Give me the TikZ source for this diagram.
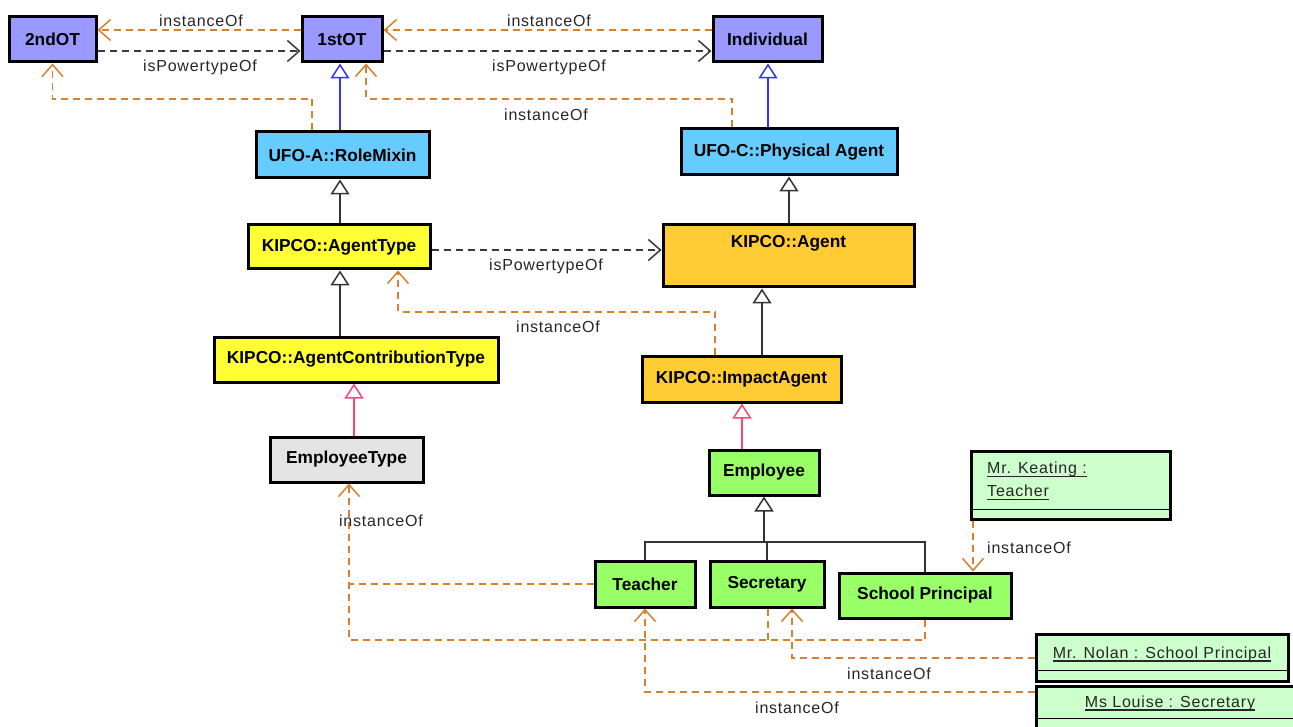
\documentclass[tikz,border=0pt]{standalone}
\usepackage{fontspec}
\setmainfont{Liberation Sans}
\newfontfamily\lblfont[LetterSpace=5]{Liberation Sans}
\usetikzlibrary{arrows.meta}

% underlined text with a rule of chosen thickness
\newcommand{\objname}[1]{\setbox0=\hbox{#1}\rlap{\raisebox{-3.5pt}{\rule{\wd0}{1.2pt}}}\box0}

\definecolor{otfill}{HTML}{9999FF}
\definecolor{ufofill}{HTML}{66CCFF}
\definecolor{typefill}{HTML}{FFFF33}
\definecolor{agentfill}{HTML}{FFCC33}
\definecolor{grayfill}{HTML}{E4E4E4}
\definecolor{classfill}{HTML}{99FF66}
\definecolor{objfill}{HTML}{CCFFCC}
\definecolor{instc}{HTML}{D9802E}
\definecolor{pwrc}{HTML}{3A3A3A}
\definecolor{genblue}{HTML}{3333FF}
\definecolor{genpink}{HTML}{FF4477}
\definecolor{genblack}{HTML}{333333}

\tikzset{
  cls/.style={draw=black, line width=3pt, inner sep=0pt,
    font=\fontsize{17.3}{20}\selectfont\bfseries, text=black},
  obj/.style={draw=black, line width=3pt, fill=objfill, inner sep=0pt},
  objtext/.style={font=\lblfont\fontsize{16}{23}\selectfont, text=black!85, inner sep=0pt},
  lbl/.style={font=\lblfont\fontsize{16}{19}\selectfont, text=black!85, inner sep=0pt},
  instline/.style={draw=instc, line width=1.5pt, dash pattern=on 7pt off 5pt},
  inst/.style={instline, -{Straight Barb[length=12pt,width=21pt,line width=1.5pt]}},
  pwr/.style={draw=pwrc, line width=1.5pt, dash pattern=on 7pt off 5pt,
    -{Straight Barb[length=12pt,width=21pt,line width=1.5pt]}},
  gen/.style={line width=1.5pt, -{Triangle[open, length=15pt, width=19pt, fill=white]}},
  treeline/.style={draw=genblack, line width=1.4pt},
}

\begin{document}
\begin{tikzpicture}[x=1pt, y=-1pt]
  \clip (0,0) rectangle (1293,727);
  \fill[white] (0,0) rectangle (1293,727);

  % meta types
  \node[cls, fill=otfill, minimum width=87pt, minimum height=45pt] (ot2) at (52.5,39.5) {2ndOT};
  \node[cls, fill=otfill, minimum width=80pt, minimum height=45pt] (ot1) at (342,39.5) {1stOT};
  \node[cls, fill=otfill, minimum width=109pt, minimum height=45pt] (ind) at (767.5,39.5) {Individual};

  % foundational ontology classes
  \node[cls, fill=ufofill, minimum width=173pt, minimum height=46pt] (rolemixin) at (342.5,155) {UFO-A::RoleMixin};
  \node[cls, fill=ufofill, minimum width=216pt, minimum height=46pt] (phys) at (789,152) {UFO-C::Physical Agent};

  % KIPCO classes
  \node[cls, fill=typefill, minimum width=182pt, minimum height=44pt] (agenttype) at (339,247) {KIPCO::AgentType};
  \node[cls, fill=agentfill, minimum width=251pt, minimum height=62pt] (agent) at (788.5,256) {};
  \node[cls, draw=none, fill=none] (agenttext) at (788.5,243) {KIPCO::Agent};
  \node[cls, fill=typefill, minimum width=284pt, minimum height=45pt] (act) at (356,359.5) {KIPCO::AgentContributionType};
  \node[cls, fill=agentfill, minimum width=199pt, minimum height=46pt] (impact) at (741.5,379) {KIPCO::ImpactAgent};

  % domain classes
  \node[cls, fill=grayfill, minimum width=153pt, minimum height=45pt] (emptype) at (346.5,459.5) {EmployeeType};
  \node[cls, fill=classfill, minimum width=110pt, minimum height=45pt] (employee) at (764,472.5) {Employee};
  \node[cls, fill=classfill, minimum width=100pt, minimum height=46pt] (teacher) at (645,584) {Teacher};
  \node[cls, fill=classfill, minimum width=114pt, minimum height=46pt] (secretary) at (767,584) {Secretary};
  \node[cls, fill=classfill, minimum width=172pt, minimum height=45pt] (principal) at (925,595.5) {School Principal};

  % instances
  \node[obj, minimum width=199pt, minimum height=68pt] (keating) at (1070.5,485) {};
  \draw[line width=1.5pt] ([yshift=11pt]keating.south west) -- ([yshift=11pt]keating.south east);
  \node[objtext, anchor=west, align=left] (keatingtext) at (987,481) {\objname{Mr. Keating :}\\\objname{Teacher}};

  \node[obj, minimum width=252pt, minimum height=47pt] (nolan) at (1162,657.5) {};
  \draw[line width=1.5pt] ([yshift=12pt]nolan.south west) -- ([yshift=12pt]nolan.south east);
  \node[objtext] (nolantext) at (1162,654) {\objname{Mr. Nolan : School Principal}};

  \node[obj, minimum width=270pt, minimum height=60pt] (louise) at (1171,716) {};
  \draw[line width=1.5pt] ([yshift=-34pt]louise.north west) -- ([yshift=-34pt]louise.north east);
  \node[objtext] (louisetext) at (1170,703) {\objname{Ms Louise : Secretary}};

  % instanceOf / isPowertypeOf between the order types
  \draw[inst] (ot1.west |- 0,30) -- (ot2.east |- 0,30);
  \node[lbl] at (201,21) {instanceOf};
  \draw[pwr] (ot2.east |- 0,51) -- (ot1.west |- 0,51);
  \node[lbl] at (200,67) {isPowertypeOf};
  \draw[inst] (ind.west |- 0,30) -- (ot1.east |- 0,30);
  \node[lbl] at (549,21) {instanceOf};
  \draw[pwr] (ot1.east |- 0,51) -- (ind.west |- 0,51);
  \node[lbl] at (549,67) {isPowertypeOf};

  \draw[inst] (rolemixin.north -| 312,0) -- (312,99) -| (ot2.south);
  \draw[inst] (phys.north -| 732,0) -- (732,99) -| (ot1.south -| 366,0);
  \node[lbl] at (546,115) {instanceOf};

  % generalizations
  \draw[gen, genblue] (rolemixin.north -| 340,0) -- (ot1.south -| 340,0);
  \draw[gen, genblue] (phys.north -| 768,0) -- (ind.south -| 768,0);
  \draw[gen, genblack] (agenttype.north -| 340,0) -- (rolemixin.south -| 340,0);
  \draw[gen, genblack] (agent.north -| 789,0) -- (phys.south -| 789,0);
  \draw[gen, genblack] (act.north -| 340,0) -- (agenttype.south -| 340,0);
  \draw[gen, genblack] (impact.north -| 762,0) -- (agent.south -| 762,0);
  \draw[gen, genpink] (emptype.north -| 354,0) -- (act.south -| 354,0);
  \draw[gen, genpink] (employee.north -| 742,0) -- (impact.south -| 742,0);

  % KIPCO power type relations
  \draw[pwr] (agenttype.east |- 0,250) -- (agent.west |- 0,250);
  \node[lbl] at (546,266) {isPowertypeOf};
  \draw[inst] (impact.north -| 715,0) -- (715,312) -| (agenttype.south -| 398,0);
  \node[lbl] at (558,327) {instanceOf};

  % employee specializations
  \draw[treeline] (teacher.north) |- (principal.north |- 0,542) -- (principal.north);
  \draw[treeline] (secretary.north) -- (secretary.north |- 0,542);
  \draw[gen, genblack] (employee.south |- 0,542) -- (employee.south);

  % roles are instances of EmployeeType
  \draw[instline] (teacher.west |- 0,584) -- (349,584);
  \draw[instline] (secretary.south -| 768,0) -- (768,640);
  \draw[inst] (principal.south) |- (349,640) -- (emptype.south -| 349,0);
  \node[lbl] at (381,521) {instanceOf};

  % individuals
  \draw[inst] (keating.south -| 973,0) -- (principal.north -| 973,0);
  \node[lbl, anchor=west] at (987,548) {instanceOf};
  \draw[inst] (nolan.west |- 0,658) -| (secretary.south -| 792,0);
  \node[lbl] at (889,674) {instanceOf};
  \draw[inst] (louise.west |- 0,692) -| (teacher.south);
  \node[lbl] at (797,708) {instanceOf};
\end{tikzpicture}
\end{document}
